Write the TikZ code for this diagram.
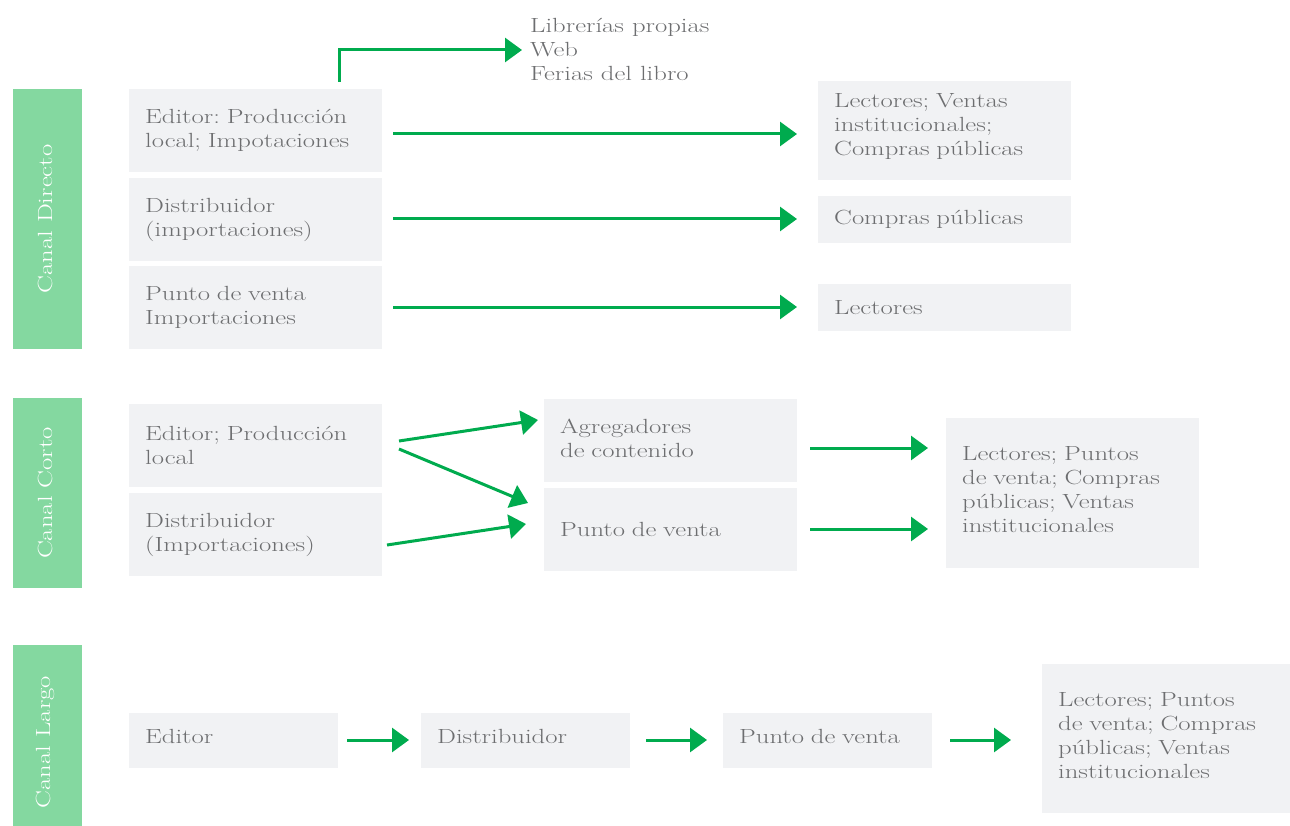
\documentclass[tikz,border=0pt]{standalone}
\usepackage{fontspec}
\setmainfont{Latin Modern Roman}[FakeStretch=1.3]
\usetikzlibrary{arrows.meta}
\definecolor{arrgreen}{RGB}{0,171,78}
\definecolor{sidegreen}{RGB}{132,216,160}
\definecolor{boxgray}{RGB}{241,242,244}
\definecolor{txtgray}{RGB}{109,110,112}
\newcommand{\tfont}{\fontsize{20.5}{24}\selectfont\frenchspacing}
\tikzset{
  box/.style={fill=boxgray, draw=none, inner xsep=16pt, inner ysep=0pt, align=left,
    font=\tfont, text=txtgray, anchor=north west},
  sidelabel/.style={text=white, font=\tfont, rotate=90},
  flow/.style={draw=arrgreen, line width=3pt, -{Triangle[length=17pt,width=24pt]}},
  plain/.style={text=txtgray, font=\tfont, align=left, inner sep=0pt}
}
\newcommand{\bx}[8][]{% opts, name, x, y, w, h, textwidth, text
  \node[box, minimum width=#5pt, minimum height=#6pt, text width=#7pt, #1] (#2) at (#3,#4) {#8};}
\begin{document}
\begin{tikzpicture}[x=1pt,y=-1pt]
\useasboundingbox (0,0) rectangle (1290,826);
% side bars
\fill[sidegreen] (13,89) rectangle (82,349);
\fill[sidegreen] (13,398) rectangle (82,588);
\fill[sidegreen] (13,645) rectangle (82,826);
\node[sidelabel] (sd) at (45,219) {Canal Directo};
\node[sidelabel] (sc) at (45,493) {Canal Corto};
\node[sidelabel] (sl) at (45,742) {Canal Largo};
% Direct
\bx{d1}{129}{89}{253}{83}{221}{Editor: Producción\\local; Impotaciones}
\bx{d2}{129}{178}{253}{83}{221}{Distribuidor\\(importaciones)}
\bx{d3}{129}{266}{253}{83}{221}{Punto de venta\\Importaciones}
\bx[text depth=60pt]{r1}{818}{81}{253}{99}{221}{Lectores; Ventas\\institucionales;\\Compras públicas}
\bx{r2}{818}{196}{253}{47}{221}{Compras públicas}
\bx{r3}{818}{284}{253}{47}{221}{Lectores}
\node[plain, anchor=north west] (top) at (530,18) {Librerías propias\\Web\\Ferias del libro};
\coordinate (topin) at (522,50);
\draw[flow] (339,82) |- (topin);
\draw[flow] (393,134) -- (797,134);
\draw[flow] (393,219) -- (797,219);
\draw[flow] (393,307) -- (797,307);
% Corto
\bx{c1}{129}{404}{253}{83}{221}{Editor; Producción\\local}
\bx{c2}{129}{493}{253}{83}{221}{Distribuidor\\(Importaciones)}
\bx[text depth=28pt]{c3}{544}{399}{253}{83}{221}{Agregadores\\de contenido}
\bx{c4}{544}{488}{253}{83}{221}{Punto de venta}
\bx[text depth=80pt]{c5}{946}{418}{253}{150}{221}{Lectores; Puntos\\de venta; Compras\\públicas; Ventas\\institucionales}
\draw[flow] (399,441) -- (538,420);
\draw[flow] (399,449) -- (528,503);
\draw[flow] (387,545) -- (526,524);
\draw[flow] (810,448) -- (928,448);
\draw[flow] (810,529) -- (928,529);
% Largo
\bx[text height=14pt, text depth=9pt]{l1}{129}{713}{209}{55}{177}{Editor}
\bx[text height=14pt, text depth=9pt]{l2}{421}{713}{209}{55}{177}{Distribuidor}
\bx[text height=14pt, text depth=9pt]{l3}{723}{713}{209}{55}{177}{Punto de venta}
\bx[text depth=78pt]{l4}{1042}{664}{248}{149}{216}{Lectores; Puntos\\de venta; Compras\\públicas; Ventas\\institucionales}
\draw[flow] (347,740) -- (409,740);
\draw[flow] (646,740) -- (707,740);
\draw[flow] (950,740) -- (1011,740);
\end{tikzpicture}
\end{document}
